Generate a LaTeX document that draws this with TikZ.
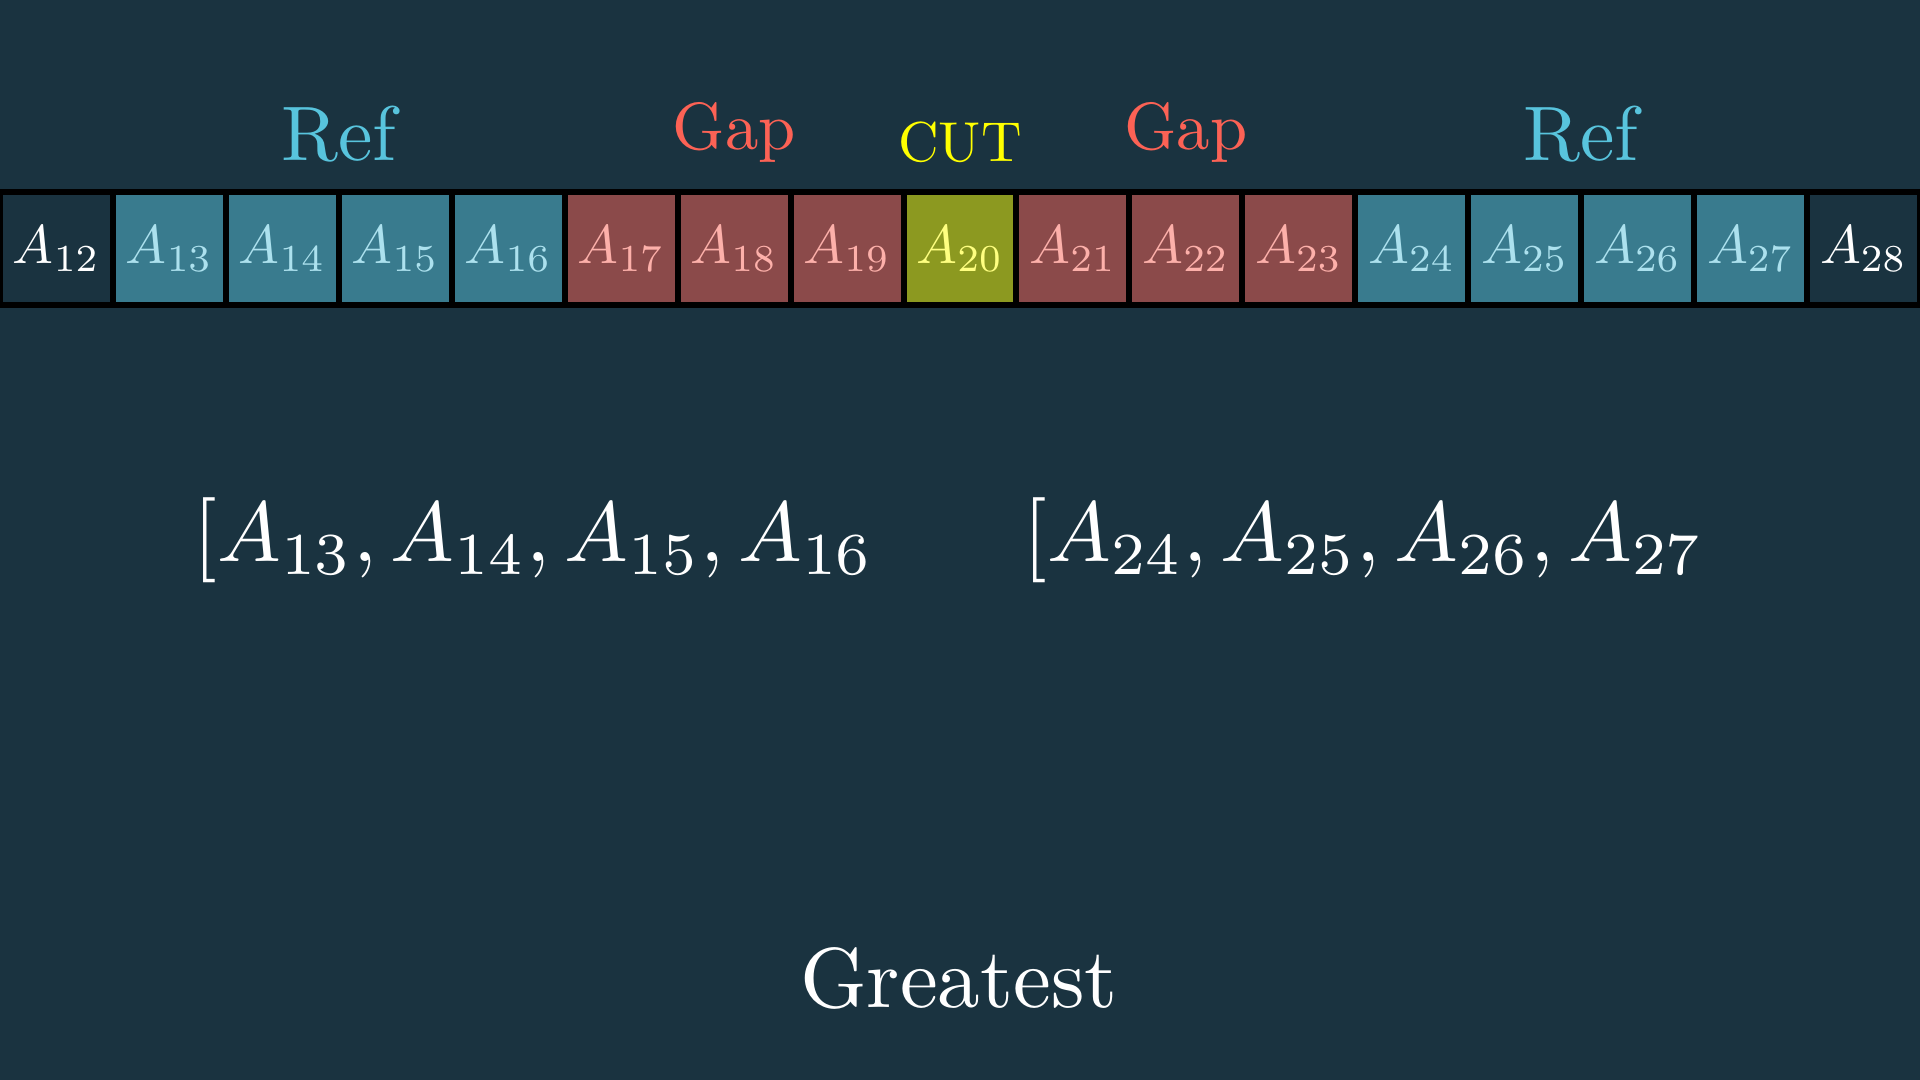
\documentclass[tikz,border=0pt]{standalone}
\usepackage{graphicx}
\usetikzlibrary{positioning,calc}
\definecolor{bgcol}{RGB}{26,51,64}
\definecolor{refcol}{HTML}{58C4DD}
\definecolor{gapcol}{HTML}{FC6255}
\definecolor{cutcol}{HTML}{FFFF00}
\begin{document}
\begin{tikzpicture}[line join=round,
	cell/.style={draw=black,line width=0.06cm,minimum size=1.1294cm,inner sep=0pt,outer sep=0pt},
	endcell/.style={cell,fill=bgcol,text=white},
	refcell/.style={cell,fill=refcol!50!bgcol,text=refcol!50!white},
	gapcell/.style={cell,fill=gapcol!50!bgcol,text=gapcol!50!white},
	cutcell/.style={cell,fill=cutcol!50!bgcol,text=cutcol!50!white},
	toplbl/.style={anchor=south,inner sep=0pt},
	big/.style={text=white,inner sep=0pt}]
	\fill[bgcol] (0,0) rectangle (19.2,10.8);
	\useasboundingbox (0,0) rectangle (19.2,10.8);
	% the row of cells
	\foreach \n/\s [count=\k from 0] in {12/endcell,13/refcell,14/refcell,15/refcell,16/refcell,
		17/gapcell,18/gapcell,19/gapcell,20/cutcell,21/gapcell,22/gapcell,23/gapcell,
		24/refcell,25/refcell,26/refcell,27/refcell,28/endcell}{
		\node[\s] (a\n) at ({(\k+0.5)*1.12941},8.315) {\scalebox{1.55}{$A_{\n}$}};}
	% labels over the groups
	\node[toplbl,text=refcol] (refL) at ($(a13.north)!.5!(a16.north)+(0,0.29)$) {\scalebox{2.2}{Ref}};
	\node[toplbl,text=gapcol] (gapL) at ($(a18.north)+(0,0.29)$) {\scalebox{1.9}{Gap}};
	\node[toplbl,text=cutcol] (cut) at ($(a20.north)+(0,0.29)$) {\scalebox{1.6}{CUT}};
	\node[toplbl,text=gapcol] (gapR) at ($(a22.north)+(0,0.29)$) {\scalebox{1.9}{Gap}};
	\node[toplbl,text=refcol] (refR) at ($(a24.north)!.5!(a27.north)+(0,0.29)$) {\scalebox{2.2}{Ref}};
	% lists
	\node[big,anchor=base west] (listL) at (1.93,5.18) {\scalebox{2.42}{$[A_{13}, A_{14}, A_{15}, A_{16}$}};
	\node[big,anchor=base west] (listR) at (10.23,5.18) {\scalebox{2.42}{$[A_{24}, A_{25}, A_{26}, A_{27}$}};
	\node[big,anchor=base] (great) at (9.59,0.72) {\scalebox{2.42}{Greatest}};
\end{tikzpicture}
\end{document}
